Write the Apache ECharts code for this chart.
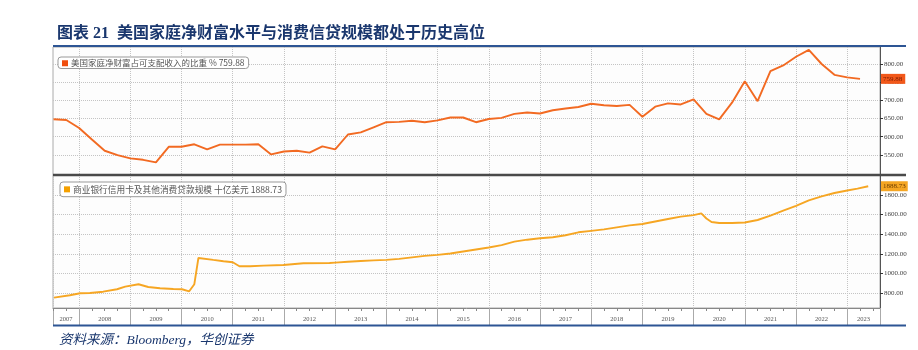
<!DOCTYPE html>
<html><head><meta charset="utf-8">
<script src="https://cdn.jsdelivr.net/npm/echarts@6/dist/echarts.min.js"></script>
<style>html,body{margin:0;padding:0;background:#fff}#c{width:918px;height:350px}</style>
</head><body><div id="c"></div>
<script>
// ---- data ----
const wealthName = '美国家庭净财富占可支配收入的比重';
const wealthUnit = '%';
const wealthT = [2007.5,2007.75,2008,2008.25,2008.5,2008.75,2009,2009.25,2009.5,2009.75,2010,2010.25,2010.5,2010.75,2011,2011.25,2011.5,2011.75,2012,2012.25,2012.5,2012.75,2013,2013.25,2013.5,2013.75,2014,2014.25,2014.5,2014.75,2015,2015.25,2015.5,2015.75,2016,2016.25,2016.5,2016.75,2017,2017.25,2017.5,2017.75,2018,2018.25,2018.5,2018.75,2019,2019.25,2019.5,2019.75,2020,2020.25,2020.5,2020.75,2021,2021.25,2021.5,2021.75,2022,2022.25,2022.5,2022.75,2023,2023.25];
const wealthV = [648,646,624,592,561,549,540,536,529,572,572,579,565,578,578,578,579,551,559,561,556,573,565,606,612,626,640,641,644,640,645,653,653,640,649,652,663,667,664,673,678,682,691,687,685,688,655,683,692,689,703,663,648,694,753,698,781,797,821,840,801,771,764,759.88];

const creditName = '商业银行信用卡及其他消费贷款规模';
const creditUnit = '十亿美元';
const creditT = [2007.51,2007.82,2008.02,2008.21,2008.47,2008.74,2008.9,2009.16,2009.35,2009.58,2009.84,2010.01,2010.15,2010.25,2010.33,2010.62,2010.82,2011,2011.13,2011.34,2011.6,2011.99,2012.38,2012.89,2013,2013.25,2013.5,2013.75,2014,2014.25,2014.5,2014.75,2015,2015.25,2015.5,2015.75,2016,2016.25,2016.5,2016.75,2017,2017.25,2017.5,2017.75,2018,2018.25,2018.5,2018.75,2019,2019.25,2019.5,2019.75,2020,2020.15,2020.25,2020.35,2020.5,2020.75,2021,2021.25,2021.5,2021.75,2022,2022.25,2022.5,2022.75,2023,2023.2,2023.41];
const creditV = [755,780,800,803,816,841,867,892,864,851,844,841,820,892,1159,1139,1126,1115,1075,1075,1081,1088,1105,1108,1112,1120,1128,1135,1140,1150,1165,1180,1190,1205,1225,1245,1265,1290,1325,1345,1360,1370,1390,1420,1435,1450,1470,1490,1505,1530,1555,1580,1595,1612,1560,1525,1515,1515,1520,1545,1590,1640,1690,1745,1785,1820,1845,1865,1888.73];

const years = [2007,2008,2009,2010,2011,2012,2013,2014,2015,2016,2017,2018,2019,2020,2021,2022,2023];
const wealthTicks = [550,600,650,700,750,800];
const creditTicks = [800,1000,1200,1400,1600,1800];

const titleText = '图表 21  美国家庭净财富水平与消费信贷规模都处于历史高位';
const sourceText = '资料来源：Bloomberg，华创证券';

// ---- layout helpers ----
const xMin = 2007.49, xMax = 2023.64;
const yearBounds = [xMin].concat(years.slice(1)).concat([xMax]);
const labelPos = years.map(y => {
  const a = Math.max(y, xMin), b = Math.min(y + 1, xMax);
  return (a + b) / 2;
});
const quarterTicks = [];
years.forEach(y => [0.25, 0.5, 0.75].forEach(q => { const v = y + q; if (v > xMin && v < xMax) quarterTicks.push(v); }));

const wealthData = wealthT.map((t, i) => [t, wealthV[i]]);
const creditData = creditT.map((t, i) => [t, creditV[i]]);
const wealthLast = wealthV[wealthV.length - 1];
const creditLast = creditV[creditV.length - 1];

const serif = '"Liberation Serif","Noto Sans CJK SC",serif';
const sans = '"Noto Sans CJK SC","Noto Sans",sans-serif';
const grid0 = {left: 53, right: 38, top: 47, height: 128, show: true, borderColor: '#aaa', borderWidth: 1, backgroundColor: '#fdfdfd'};
const grid1 = {left: 53, right: 38, top: 175, height: 133, show: true, borderColor: '#aaa', borderWidth: 1, backgroundColor: '#fdfdfd'};
const dotted = {type: 'dotted', color: '#c4c4c4', width: 1};

function xAxisTop() {
  return {type: 'value', gridIndex: 0, min: xMin, max: xMax,
    axisLine: {show: false}, axisTick: {show: false, customValues: yearBounds.slice(1, -1)},
    axisLabel: {show: false}, splitLine: {show: true, lineStyle: dotted}};
}
const chart = echarts.init(document.getElementById('c'), null, {renderer: 'canvas'});
chart.setOption({
  animation: false,
  backgroundColor: '#fff',
  title: [
    {text: titleText, left: 52, top: 21, textStyle: {fontFamily: serif, fontSize: 16, fontWeight: 'bold', color: '#1a376e'}},
    {text: sourceText, left: 54, top: 329, textStyle: {fontFamily: serif, fontSize: 13.5, fontStyle: 'italic', fontWeight: 'normal', color: '#1a376e'}}
  ],
  legend: [
    {data: [wealthName], left: 58, top: 57, orient: 'horizontal', icon: 'rect', itemWidth: 6, itemHeight: 6, itemGap: 4,
      padding: [2, 4, 1, 4], backgroundColor: '#fff', borderColor: '#999', borderWidth: 1, borderRadius: 3,
      formatter: n => n + ' ' + wealthUnit + ' ' + wealthLast.toFixed(2),
      textStyle: {fontFamily: sans, fontSize: 8.5, color: '#555', padding: [0, 0, 0, -2]}},
    {data: [creditName], left: 60, top: 182, orient: 'horizontal', icon: 'rect', itemWidth: 6, itemHeight: 6, itemGap: 4,
      padding: [3, 4, 3, 4], backgroundColor: '#fff', borderColor: '#999', borderWidth: 1, borderRadius: 3,
      formatter: n => n + ' ' + creditUnit + ' ' + creditLast.toFixed(2),
      textStyle: {fontFamily: sans, fontSize: 8.7, color: '#555', padding: [0, 0, 0, -2]}}
  ],
  grid: [grid0, grid1],
  xAxis: [
    xAxisTop(),
    {type: 'value', gridIndex: 1, min: xMin, max: xMax, position: 'bottom',
      axisLine: {show: true, lineStyle: {color: '#888', width: 1}},
      axisTick: {show: true, customValues: yearBounds, length: 17, lineStyle: {color: '#aaa'}},
      axisLabel: {show: true, customValues: labelPos, formatter: v => String(Math.floor(v)), fontFamily: serif, fontSize: 6.5, color: '#555', margin: 8},
      splitLine: {show: true, lineStyle: dotted}},
    {type: 'value', gridIndex: 1, min: xMin, max: xMax, position: 'bottom', offset: 0,
      axisLine: {show: false}, axisTick: {show: true, customValues: quarterTicks, length: 3, lineStyle: {color: '#888'}},
      axisLabel: {show: false}, splitLine: {show: false}}
  ],
  yAxis: [
    {type: 'value', gridIndex: 0, position: 'right', min: 494, max: 848,
      axisLine: {show: true, lineStyle: {color: '#555'}},
      axisTick: {show: true, customValues: wealthTicks, length: 3, lineStyle: {color: '#333'}},
      axisLabel: {customValues: wealthTicks, formatter: v => v.toFixed(2), fontFamily: serif, fontSize: 7, color: '#444', margin: 4},
      splitLine: {show: true, lineStyle: dotted}},
    {type: 'value', gridIndex: 0, position: 'right', min: 494, max: 848, z: 10,
      axisLine: {show: false}, axisTick: {show: false, customValues: [wealthLast]}, splitLine: {show: false},
      axisLabel: {customValues: [wealthLast], formatter: v => v.toFixed(2), fontFamily: serif, fontSize: 7, color: '#7a1a00',
        backgroundColor: '#f2581a', padding: [2, 3, 1, 2], margin: 1}},
    {type: 'value', gridIndex: 1, position: 'right', min: 650, max: 2003,
      axisLine: {show: true, lineStyle: {color: '#555'}},
      axisTick: {show: true, customValues: creditTicks, length: 3, lineStyle: {color: '#333'}},
      axisLabel: {customValues: creditTicks, formatter: v => v.toFixed(2), fontFamily: serif, fontSize: 7, color: '#444', margin: 4},
      splitLine: {show: true, lineStyle: dotted}},
    {type: 'value', gridIndex: 1, position: 'right', min: 650, max: 2003, z: 10,
      axisLine: {show: false}, axisTick: {show: false, customValues: [creditLast]}, splitLine: {show: false},
      axisLabel: {customValues: [creditLast], formatter: v => v.toFixed(2), fontFamily: serif, fontSize: 7, color: '#6b3c00',
        backgroundColor: '#f5a623', padding: [2, 2, 1, 2], margin: 1}}
  ],
  series: [
    {name: wealthName, type: 'line', xAxisIndex: 0, yAxisIndex: 0, data: wealthData, showSymbol: false,
      lineStyle: {color: '#f26a22', width: 1.9}, itemStyle: {color: '#f04e0f'}},
    {name: creditName, type: 'line', xAxisIndex: 1, yAxisIndex: 2, data: creditData, showSymbol: false,
      lineStyle: {color: '#f6a623', width: 1.9}, itemStyle: {color: '#f5a000'}}
  ],
  graphic: [
    {type: 'line', shape: {x1: 53, y1: 46, x2: 906, y2: 46}, style: {stroke: '#2d5594', lineWidth: 2}, z: 20},
    {type: 'line', shape: {x1: 53, y1: 175, x2: 906, y2: 175}, style: {stroke: '#4a4a4a', lineWidth: 2.5}, z: 20},
    {type: 'line', shape: {x1: 53, y1: 325.5, x2: 906, y2: 325.5}, style: {stroke: '#2d5594', lineWidth: 2}, z: 20}
  ]
});
</script></body></html>
